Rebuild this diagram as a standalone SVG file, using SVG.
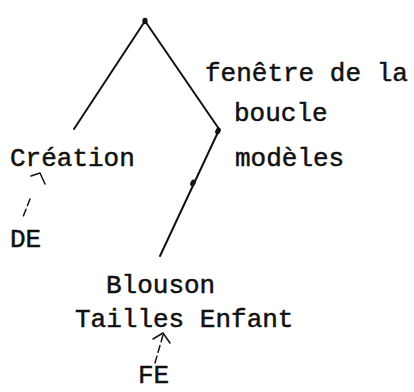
<svg xmlns="http://www.w3.org/2000/svg" width="414" height="392" viewBox="0 0 414 392">
  <style>
    .lbl { font-family: "Liberation Mono", "DejaVu Sans Mono", monospace; font-size: 26px; fill: #111; stroke: #111; stroke-width: 0.5px; }
    .edge { stroke: #111; stroke-width: 2; fill: none; stroke-linecap: round; }
    .ptr { stroke: #111; stroke-width: 1.5; fill: none; stroke-linecap: round; stroke-linejoin: round; }
    .dash { stroke-dasharray: 7 4; }
    .dot { fill: #111; }
  </style>
  <rect width="414" height="392" fill="#fff"/>

  <!-- tree branches -->
  <g id="connectors">
    <line class="edge" x1="145" y1="21" x2="74" y2="129"/>
    <line class="edge" x1="145" y1="21" x2="219" y2="129"/>
    <line class="edge" x1="219" y1="130" x2="160" y2="256"/>
    <ellipse class="dot" cx="145" cy="21" rx="2.6" ry="3.2"/>
    <ellipse class="dot" cx="218" cy="131" rx="2.6" ry="3.5" transform="rotate(25 218 131)"/>
    <ellipse class="dot" cx="193" cy="183" rx="2.6" ry="3.5" transform="rotate(25 193 183)"/>
    <!-- hand-drawn pointers -->
    <polyline class="ptr" points="31,176 40,173 45,184"/>
    <line class="ptr dash" x1="30" y1="199" x2="23" y2="217"/>
    <polyline class="ptr" points="153,339 163,333 170,343"/>
    <line class="ptr dash" x1="163" y1="335" x2="155" y2="363"/>
  </g>

  <g id="node-fenetre">
    <text class="lbl" x="205" y="81">fenêtre de la</text>
    <text class="lbl" x="234" y="121">boucle</text>
    <text class="lbl" x="235" y="166">modèles</text>
  </g>
  <g id="node-creation">
    <text class="lbl" x="10" y="166">Création</text>
  </g>
  <g id="node-de">
    <text class="lbl" x="10" y="247">DE</text>
  </g>
  <g id="node-blouson">
    <text class="lbl" x="106" y="293">Blouson</text>
    <text class="lbl" x="75" y="327">Tailles Enfant</text>
  </g>
  <g id="node-fe">
    <text class="lbl" x="138" y="383">FE</text>
  </g>
</svg>
